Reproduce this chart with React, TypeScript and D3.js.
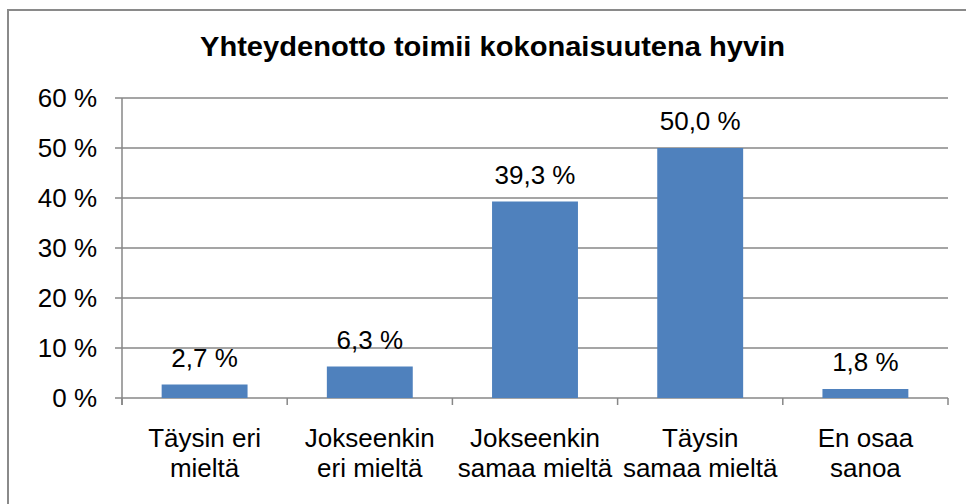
import React from "react";
import * as d3 from "d3";

const categories: string[][] = [
  ["Täysin eri", "mieltä"],
  ["Jokseenkin", "eri mieltä"],
  ["Jokseenkin", "samaa mieltä"],
  ["Täysin", "samaa mieltä"],
  ["En osaa", "sanoa"],
];
const values: number[] = [2.7, 6.3, 39.3, 50.0, 1.8];
const yTicks: number[] = [0, 10, 20, 30, 40, 50, 60];
const title = "Yhteydenotto toimii kokonaisuutena hyvin";

const W = 966;
const H = 504;
const left = 122;
const right = 948;
const top = 98;
const bottom = 398;
const FONT = "'Liberation Sans', Arial, sans-serif";

export default function App() {
  const x = d3
    .scaleBand<number>()
    .domain(d3.range(categories.length))
    .range([left, right])
    .paddingInner(0.48)
    .paddingOuter(0.24);
  const y = d3.scaleLinear().domain([0, 60]).range([bottom, top]);
  const bandStep = (right - left) / categories.length;
  const fmt = (v: number) => v.toFixed(1).replace(".", ",") + " %";
  const grid = "#878787";

  return (
    <svg
      width={W}
      height={H}
      style={{ position: "absolute", left: 0, top: 0, background: "#fff" }}
      fontFamily={FONT}
    >
      <rect x={8} y={10} width={970} height={510} fill="#fff" stroke="#8a8a8a" strokeWidth={2} />
      <text
        x={492.5}
        y={56}
        textAnchor="middle"
        fontSize={28}
        fontWeight="bold"
        fill="#000"
        textLength={585}
        lengthAdjust="spacingAndGlyphs"
      >
        {title}
      </text>
      {yTicks.map((t) => (
        <g key={t}>
          <line x1={left - 7} x2={right} y1={y(t)} y2={y(t)} stroke={grid} strokeWidth={1.5} />
          <text x={97} y={y(t)} dy="0.35em" textAnchor="end" fontSize={26} fill="#000">
            {t} %
          </text>
        </g>
      ))}
      <line x1={left} x2={left} y1={top} y2={bottom + 7} stroke={grid} strokeWidth={1.5} />
      {d3.range(categories.length + 1).map((i) => (
        <line
          key={i}
          x1={left + i * bandStep}
          x2={left + i * bandStep}
          y1={bottom}
          y2={bottom + 7}
          stroke={grid}
          strokeWidth={1.5}
        />
      ))}
      {values.map((v, i) => (
        <g key={i}>
          <rect
            x={x(i)!}
            y={y(v)}
            width={x.bandwidth()}
            height={y(0) - y(v)}
            fill="#4F81BD"
          />
          <text
            x={x(i)! + x.bandwidth() / 2}
            y={y(v) - 18}
            textAnchor="middle"
            fontSize={26}
            fill="#000"
          >
            {fmt(v)}
          </text>
        </g>
      ))}
      {categories.map((lines, i) => (
        <text
          key={i}
          x={x(i)! + x.bandwidth() / 2}
          y={447}
          textAnchor="middle"
          fontSize={26}
          fill="#000"
        >
          {lines.map((l, j) => (
            <tspan key={j} x={x(i)! + x.bandwidth() / 2} dy={j === 0 ? 0 : 30}>
              {l}
            </tspan>
          ))}
        </text>
      ))}
    </svg>
  );
}
